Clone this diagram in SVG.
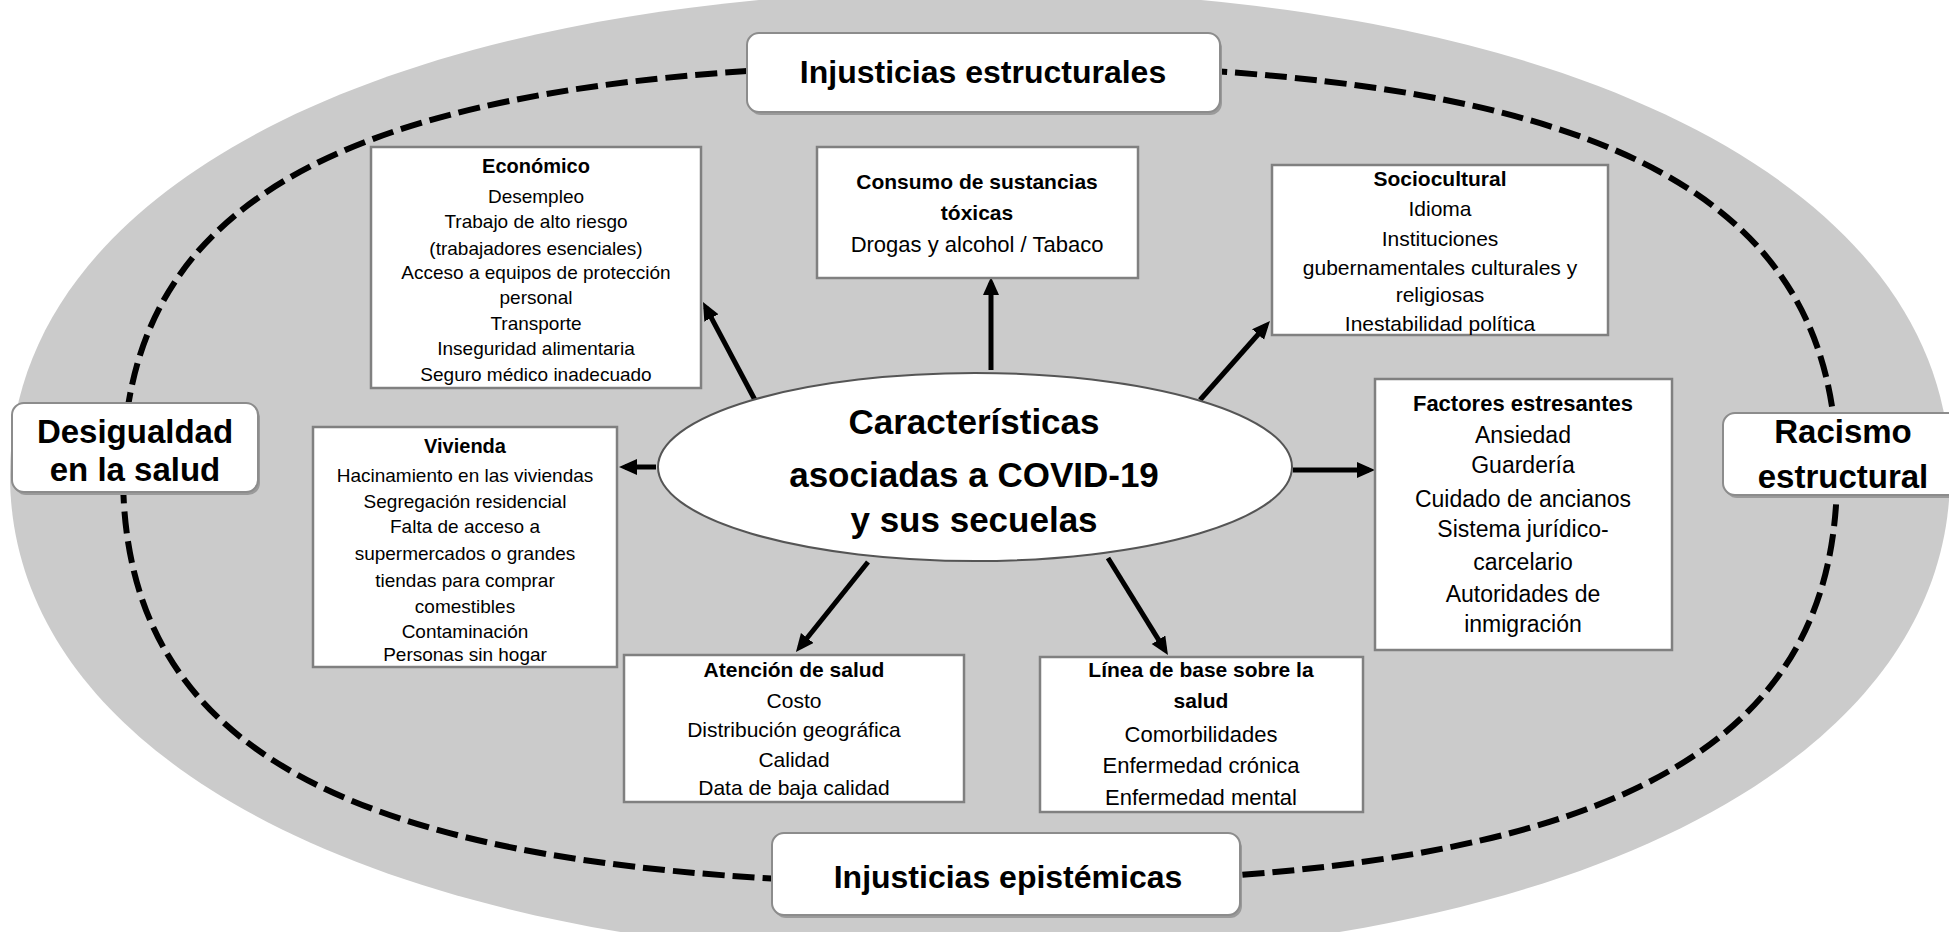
<svg xmlns="http://www.w3.org/2000/svg" width="1949" height="932" viewBox="0 0 1949 932">
<style>
.box{fill:#ffffff;stroke:#808080;stroke-width:2.5}
.lbl{fill:#ffffff;stroke:#8c8c8c;stroke-width:2}
.sh{fill:#9a9a9a}
text{font-family:"Liberation Sans",Arial,sans-serif;fill:#000;text-anchor:middle}
.t{font-weight:bold}
.big{font-weight:bold;font-size:32px}
.corner{font-weight:bold;font-size:33px}
.ctr{font-weight:bold;font-size:35px}
.arr{stroke:#000;stroke-width:5;fill:none;marker-end:url(#ah)}
</style>
<defs>
<marker id="ah" markerUnits="userSpaceOnUse" markerWidth="20" markerHeight="18" refX="12" refY="8" orient="auto">
<path d="M0,0 L18,8 L0,16 z" fill="#000"/>
</marker>
</defs>
<rect x="0" y="0" width="1949" height="932" fill="#ffffff"/>
<path d="M 10 475 C 10 184, 397 -10, 980 -10 C 1563 -10, 1950 184, 1950 475 C 1950 766, 1563 960, 980 960 C 397 960, 10 766, 10 475 Z" fill="#cbcbcb"/>
<path d="M 123 474 C 123 183, 372 64, 980 64 C 1588 64, 1837 183, 1837 474 C 1837 765, 1588 884, 980 884 C 372 884, 123 765, 123 474 Z" fill="none" stroke="#000" stroke-width="6" stroke-dasharray="22 8"/>

<g id="lbl-estructurales">
<rect class="sh" x="749" y="36" width="473" height="79" rx="12"/>
<rect class="lbl" x="747" y="33" width="473" height="79" rx="12"/>
<text class="big" x="983" y="83">Injusticias estructurales</text>
</g>
<g id="lbl-epistemicas">
<rect class="sh" x="774" y="836" width="468" height="82" rx="12"/>
<rect class="lbl" x="772" y="833" width="468" height="82" rx="12"/>
<text class="big" x="1008" y="888">Injusticias epistémicas</text>
</g>
<g id="lbl-desigualdad">
<rect class="sh" x="14" y="406" width="246" height="89" rx="12"/>
<rect class="lbl" x="12" y="403" width="246" height="89" rx="12"/>
<text class="corner" x="135" y="443">Desigualdad</text>
<text class="corner" x="135" y="481">en la salud</text>
</g>
<g id="lbl-racismo">
<rect class="sh" x="1725" y="416" width="250" height="82" rx="12"/>
<rect class="lbl" x="1723" y="413" width="250" height="82" rx="12"/>
<text class="corner" x="1843" y="443">Racismo</text>
<text class="corner" x="1843" y="488">estructural</text>
</g>

<g id="connectors">
<line class="arr" x1="755" y1="400" x2="705.8" y2="307.3"/>
<line class="arr" x1="991" y1="370" x2="991" y2="283"/>
<line class="arr" x1="1200" y1="400" x2="1266" y2="325.5"/>
<line class="arr" x1="656" y1="467" x2="625" y2="467"/>
<line class="arr" x1="1293" y1="470" x2="1369" y2="470"/>
<line class="arr" x1="868" y1="562" x2="799.7" y2="647.3"/>
<line class="arr" x1="1108" y1="558" x2="1164.8" y2="649.9"/>
</g>

<g id="center">
<ellipse cx="975" cy="467" rx="317" ry="94" fill="#ffffff" stroke="#555555" stroke-width="2"/>
<text class="ctr" x="974" y="434">Características</text>
<text class="ctr" x="974" y="487">asociadas a COVID-19</text>
<text class="ctr" x="974" y="532">y sus secuelas</text>
</g>

<g id="economico" font-size="19">
<rect class="box" x="371" y="147" width="330" height="241"/>
<text class="t" x="536" y="173" font-size="20">Económico</text>
<text x="536" y="203">Desempleo</text>
<text x="536" y="228">Trabajo de alto riesgo</text>
<text x="536" y="255">(trabajadores esenciales)</text>
<text x="536" y="279">Acceso a equipos de protección</text>
<text x="536" y="304">personal</text>
<text x="536" y="330">Transporte</text>
<text x="536" y="355">Inseguridad alimentaria</text>
<text x="536" y="381">Seguro médico inadecuado</text>
</g>

<g id="consumo" font-size="22">
<rect class="box" x="817" y="147" width="321" height="131"/>
<text class="t" x="977" y="189" font-size="21">Consumo de sustancias</text>
<text class="t" x="977" y="220" font-size="21">tóxicas</text>
<text x="977" y="252">Drogas y alcohol / Tabaco</text>
</g>

<g id="sociocultural" font-size="21">
<rect class="box" x="1272" y="165" width="336" height="170"/>
<text class="t" x="1440" y="186" font-size="21">Sociocultural</text>
<text x="1440" y="216">Idioma</text>
<text x="1440" y="246">Instituciones</text>
<text x="1440" y="275">gubernamentales culturales y</text>
<text x="1440" y="302">religiosas</text>
<text x="1440" y="331">Inestabilidad política</text>
</g>

<g id="vivienda" font-size="19">
<rect class="box" x="313" y="427" width="304" height="240"/>
<text class="t" x="465" y="453" font-size="20">Vivienda</text>
<text x="465" y="482">Hacinamiento en las viviendas</text>
<text x="465" y="508">Segregación residencial</text>
<text x="465" y="533">Falta de acceso a</text>
<text x="465" y="560">supermercados o grandes</text>
<text x="465" y="587">tiendas para comprar</text>
<text x="465" y="613">comestibles</text>
<text x="465" y="638">Contaminación</text>
<text x="465" y="661">Personas sin hogar</text>
</g>

<g id="factores" font-size="23">
<rect class="box" x="1375" y="379" width="297" height="271"/>
<text class="t" x="1523" y="411" font-size="22">Factores estresantes</text>
<text x="1523" y="443">Ansiedad</text>
<text x="1523" y="473">Guardería</text>
<text x="1523" y="507">Cuidado de ancianos</text>
<text x="1523" y="537">Sistema jurídico-</text>
<text x="1523" y="570">carcelario</text>
<text x="1523" y="602">Autoridades de</text>
<text x="1523" y="632">inmigración</text>
</g>

<g id="atencion" font-size="21">
<rect class="box" x="624" y="655" width="340" height="147"/>
<text class="t" x="794" y="677" font-size="21">Atención de salud</text>
<text x="794" y="708">Costo</text>
<text x="794" y="737">Distribución geográfica</text>
<text x="794" y="767">Calidad</text>
<text x="794" y="795">Data de baja calidad</text>
</g>

<g id="linea" font-size="22">
<rect class="box" x="1040" y="657" width="323" height="155"/>
<text class="t" x="1201" y="677" font-size="21">Línea de base sobre la</text>
<text class="t" x="1201" y="708" font-size="21">salud</text>
<text x="1201" y="742">Comorbilidades</text>
<text x="1201" y="773">Enfermedad crónica</text>
<text x="1201" y="805">Enfermedad mental</text>
</g>
</svg>
